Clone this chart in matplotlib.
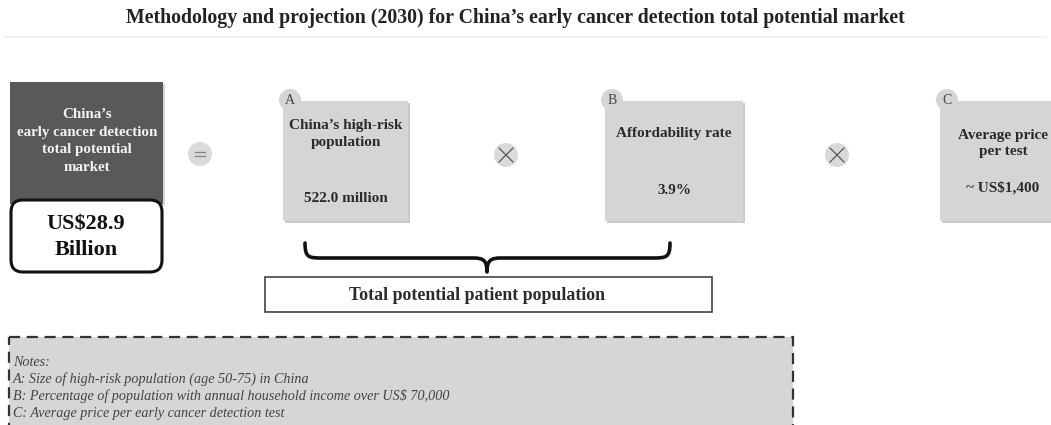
import matplotlib
matplotlib.use("Agg")
import matplotlib.pyplot as plt
from matplotlib.patches import Rectangle, FancyBboxPatch, Circle, PathPatch
from matplotlib.path import Path

plt.rcParams['font.family'] = ['Liberation Serif', 'DejaVu Serif']

# ---- content ----
title = "Methodology and projection (2030) for China\u2019s early cancer detection total potential market"
total_label = "China\u2019s\nearly cancer detection\ntotal potential\nmarket"
total_value = "US$28.9\nBillion"
letters = ["A", "B", "C"]
factor_names = ["China\u2019s high-risk\npopulation", "Affordability rate", "Average price\nper test"]
factor_values = ["522.0 million", "3.9%", "~ US$1,400"]
brace_label = "Total potential patient population"
notes = ["Notes:",
         "A: Size of high-risk population (age 50-75) in China",
         "B: Percentage of population with annual household income over US$ 70,000",
         "C: Average price per early cancer detection test"]

W, H = 1051, 425
fig = plt.figure(figsize=(W / 100, H / 100), dpi=100)
ax = fig.add_axes([0, 0, 1, 1])
ax.set_xlim(0, W)
ax.set_ylim(H, 0)
ax.axis('off')

DARK = '#58595b'
GRAY = '#d4d5d7'
TXT = '#2b2b2b'

# title
ax.text(515, 18, title, ha='center', va='center', fontsize=14.3, fontweight='bold', color='#222222')
ax.plot([5, 1046], [37, 37], color='#f0f0f0', lw=1.2)

# dark total box
ax.add_patch(Rectangle((12, 84), 153, 122, facecolor='#b0b0b0', edgecolor='none', alpha=0.5))
ax.add_patch(Rectangle((10, 82), 153, 122, facecolor=DARK, edgecolor='none'))
ax.text(87, 141, total_label, ha='center', va='center', fontsize=10.8, fontweight='bold',
        color='#f4f4f4', linespacing=1.45)
# value box
ax.add_patch(FancyBboxPatch((11, 200), 151, 72, boxstyle="round,pad=0,rounding_size=12",
                            facecolor='white', edgecolor='#111111', lw=2.2))
ax.text(86, 237, total_value, ha='center', va='center', fontsize=16, fontweight='bold',
        color='#111111', linespacing=1.4)

# operators
def op_circle(cx, cy, kind):
    ax.add_patch(Circle((cx, cy), 12, facecolor='#dadada', edgecolor='none'))
    if kind == '=':
        for dy in (-2, 2):
            ax.plot([cx - 5, cx + 5], [cy + dy, cy + dy], color='#8a8a8a', lw=1.0)
    else:
        ax.plot([cx - 7, cx + 7], [cy - 7, cy + 7], color='#555555', lw=0.9)
        ax.plot([cx - 7, cx + 7], [cy + 7, cy - 7], color='#555555', lw=0.9)

op_circle(200, 154, '=')
op_circle(506, 155, 'x')
op_circle(837, 155, 'x')

# factor boxes
box_x = [283, 605, 940]
box_w = [125, 138, 140]
name_y = [[125, 143], [133], [135, 152]]
val_y = [198, 190, 188]
for i in range(3):
    x0, w = box_x[i], box_w[i]
    ax.add_patch(Rectangle((x0 + 2, 103), w, 120, facecolor='#a5a5a5', edgecolor='none', alpha=0.6))
    ax.add_patch(Rectangle((x0, 101), w, 120, facecolor=GRAY, edgecolor='none'))
    ax.add_patch(Circle((x0 + 7, 100), 11, facecolor=GRAY, edgecolor='none'))
    ax.text(x0 + 7, 100, letters[i], ha='center', va='center', fontsize=10, color='#444444')
    cx = x0 + w / 2 if i < 2 else 1003
    ny = name_y[i]
    ax.text(cx, sum(ny) / len(ny), factor_names[i], ha='center', va='center', fontsize=11,
            fontweight='bold', color=TXT, linespacing=1.4)
    ax.text(cx, val_y[i], factor_values[i], ha='center', va='center', fontsize=11,
            fontweight='bold', color=TXT)

# brace
xl, xr, xm = 305, 670, 487
yt, yh, yp = 243, 258, 272
verts = [(xl, yt),
         (xl, yh), (xl + 4, yh), (xl + 18, yh),
         (xm - 14, yh),
         (xm - 4, yh), (xm, yh + 2), (xm, yp),
         (xm, yh + 2), (xm + 4, yh), (xm + 14, yh),
         (xr - 18, yh),
         (xr - 4, yh), (xr, yh), (xr, yt)]
codes = [Path.MOVETO,
         Path.CURVE4, Path.CURVE4, Path.CURVE4,
         Path.LINETO,
         Path.CURVE4, Path.CURVE4, Path.CURVE4,
         Path.CURVE4, Path.CURVE4, Path.CURVE4,
         Path.LINETO,
         Path.CURVE4, Path.CURVE4, Path.CURVE4]
ax.add_patch(PathPatch(Path(verts, codes), facecolor='none', edgecolor='#111111', lw=2.6,
                       capstyle='round', joinstyle='round'))

# patient population box
ax.add_patch(Rectangle((265, 277), 447, 35, facecolor='white', edgecolor='#444444', lw=1.2))
ax.text(477, 295, brace_label, ha='center', va='center', fontsize=12.8, fontweight='bold', color=TXT)

# notes box
ax.add_patch(Rectangle((9, 337), 784, 100, facecolor='#d5d6d8', edgecolor='#333333', lw=1.6,
                       linestyle=(0, (5, 3))))
for k, line in enumerate(notes):
    ax.text(13, 362 + 17 * k, line, ha='left', va='center', fontsize=10.2, fontstyle='italic',
            color='#444444')

fig.savefig('out.png', dpi=100)
